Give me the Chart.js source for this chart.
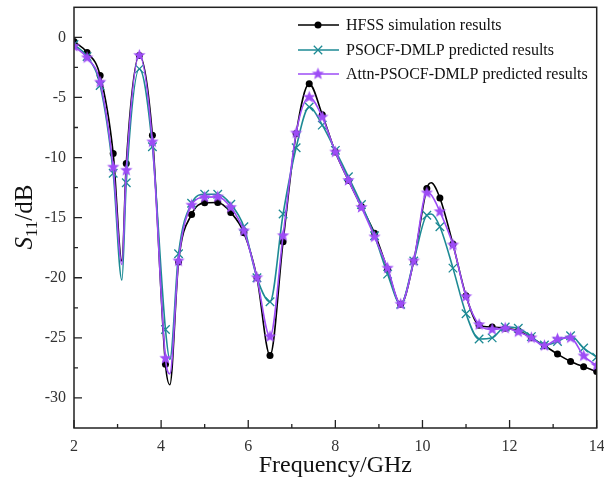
<!DOCTYPE html>
<html>
<head>
<meta charset="utf-8">
<script src="https://cdn.jsdelivr.net/npm/chart.js@4"></script>
<style>
  html, body { margin: 0; padding: 0; background: #fff; }
  #wrap { width: 604px; height: 479px; position: relative; }
</style>
</head>
<body>
<div id="wrap"><canvas id="c"></canvas></div>
<script>
// ---- data ----
const freq = [2.0,2.3,2.6,2.9,3.1,3.2,3.5,3.8,4.1,4.2,4.4,4.7,5.0,5.3,5.6,5.9,6.2,6.5,6.8,7.1,7.4,7.7,8.0,8.3,8.6,8.9,9.2,9.5,9.8,10.1,10.2,10.4,10.7,11.0,11.3,11.6,11.9,12.2,12.5,12.8,13.1,13.4,13.7,14.0];
const hfss = [-0.35,-1.25,-3.18,-9.67,-18.6,-10.5,-1.52,-8.15,-27.2,-28.9,-18.7,-14.73,-13.77,-13.74,-14.57,-16.26,-20.0,-26.46,-17.0,-8.0,-3.87,-6.44,-9.54,-11.9,-14.1,-16.3,-19.3,-22.2,-18.6,-12.58,-12.1,-13.36,-17.2,-21.5,-23.95,-24.1,-24.2,-24.4,-25.0,-25.65,-26.35,-26.96,-27.4,-27.8];
const psocf = [-0.6,-1.6,-4.0,-11.3,-20.2,-12.1,-2.62,-9.1,-24.3,-26.8,-18.0,-13.8,-13.05,-13.05,-13.88,-15.76,-20.0,-22.0,-14.7,-9.18,-5.8,-7.3,-9.4,-11.6,-13.9,-16.5,-19.7,-22.2,-18.6,-14.8,-14.7,-15.76,-19.2,-23.0,-25.1,-25.0,-24.1,-24.2,-24.9,-25.6,-25.3,-24.83,-25.85,-26.6];
const attn = [-0.75,-1.7,-3.73,-10.8,-18.9,-11.06,-1.5,-8.7,-26.7,-28.0,-18.6,-13.96,-13.3,-13.27,-14.15,-16.1,-20.0,-24.9,-16.5,-7.96,-4.98,-6.63,-9.54,-11.9,-14.15,-16.6,-19.2,-22.2,-18.6,-12.94,-13.1,-14.5,-17.28,-21.57,-23.9,-24.3,-24.2,-24.5,-25.0,-25.65,-25.1,-25.0,-26.5,-27.3];
const seriesNames = ['HFSS simulation results','PSOCF-DMLP predicted results','Attn-PSOCF-DMLP predicted results'];
const xTicks = [2,4,6,8,10,12,14];
const yTicks = [0,-5,-10,-15,-20,-25,-30];
const xTitle = 'Frequency/GHz';

// ---- styles ----
const FONT = '"Liberation Serif", "Times New Roman", serif';
const C_BLACK = '#000000';
const C_TEAL = '#1d8a94';
const C_PURPLE = '#9d4cf6';

function isMarker(f) { const k = (f - 2) / 0.3; return Math.abs(k - Math.round(k)) < 1e-6; }

function makeStar(color, R, r) {
  const s = Math.ceil(R * 2 + 2);
  const cv = document.createElement('canvas');
  cv.width = s; cv.height = s;
  const g = cv.getContext('2d');
  g.translate(s / 2, s / 2);
  g.beginPath();
  for (let i = 0; i < 10; i++) {
    const rad = (i % 2 === 0) ? R : r;
    const a = -Math.PI / 2 + i * Math.PI / 5;
    const px = rad * Math.cos(a), py = rad * Math.sin(a);
    if (i === 0) g.moveTo(px, py); else g.lineTo(px, py);
  }
  g.closePath();
  g.fillStyle = color; g.fill();
  return cv;
}
const starImg = makeStar(C_PURPLE, 6.5, 2.8);

function pts(arr) { return freq.map((f, i) => ({ x: f, y: arr[i] })); }

const frame = {
  id: 'frame',
  afterDraw(chart) {
    const { ctx, chartArea: { left, right, top, bottom }, scales: { x, y } } = chart;
    ctx.save();
    ctx.strokeStyle = '#222';
    ctx.lineWidth = 1.5;
    ctx.strokeRect(left, top, right - left, bottom - top);
    ctx.lineWidth = 1.3;
    ctx.beginPath();
    xTicks.forEach(v => { const p = x.getPixelForValue(v); ctx.moveTo(p, bottom); ctx.lineTo(p, bottom - 8); });
    for (let i = 0; i < xTicks.length - 1; i++) {
      const p = x.getPixelForValue((xTicks[i] + xTicks[i + 1]) / 2); ctx.moveTo(p, bottom); ctx.lineTo(p, bottom - 4);
    }
    yTicks.forEach(v => { const p = y.getPixelForValue(v); ctx.moveTo(left, p); ctx.lineTo(left + 8, p); });
    for (let i = 0; i < yTicks.length - 1; i++) {
      const p = y.getPixelForValue((yTicks[i] + yTicks[i + 1]) / 2); ctx.moveTo(left, p); ctx.lineTo(left + 4, p);
    }
    ctx.stroke();

    // x title
    ctx.fillStyle = '#111';
    ctx.font = '24px ' + FONT;
    ctx.textAlign = 'center';
    ctx.textBaseline = 'alphabetic';
    ctx.fillText(xTitle, (left + right) / 2, 472);

    // y title  S11/dB
    ctx.save();
    ctx.translate(32, 217);
    ctx.rotate(-Math.PI / 2);
    ctx.textAlign = 'left';
    const f1 = 'italic 25px ' + FONT, f2 = '17px ' + FONT, f3 = '25px ' + FONT;
    ctx.font = f1; const w1 = ctx.measureText('S').width;
    ctx.font = f2; const w2 = ctx.measureText('11').width;
    ctx.font = f3; const w3 = ctx.measureText('/dB').width;
    let sx = -(w1 + w2 + w3) / 2;
    ctx.font = f1; ctx.fillText('S', sx, 0); sx += w1;
    ctx.font = f2; ctx.fillText('11', sx, 5); sx += w2;
    ctx.font = f3; ctx.fillText('/dB', sx, 0);
    ctx.restore();

    // legend
    const rows = [25, 50, 74];
    const cols = [C_BLACK, C_TEAL, C_PURPLE];
    ctx.font = '16px ' + FONT;
    ctx.textAlign = 'left';
    ctx.textBaseline = 'middle';
    rows.forEach((ry, i) => {
      ctx.strokeStyle = cols[i];
      ctx.lineWidth = 1.6;
      ctx.beginPath(); ctx.moveTo(298, ry); ctx.lineTo(339, ry); ctx.stroke();
      const mx = 318;
      if (i === 0) {
        ctx.fillStyle = C_BLACK; ctx.beginPath(); ctx.arc(mx, ry, 3.5, 0, Math.PI * 2); ctx.fill();
      } else if (i === 1) {
        ctx.lineWidth = 1.3; ctx.beginPath();
        ctx.moveTo(mx - 4.2, ry - 4.2); ctx.lineTo(mx + 4.2, ry + 4.2);
        ctx.moveTo(mx - 4.2, ry + 4.2); ctx.lineTo(mx + 4.2, ry - 4.2); ctx.stroke();
      } else {
        ctx.drawImage(starImg, mx - starImg.width / 2, ry - starImg.height / 2);
      }
      ctx.fillStyle = '#111';
      ctx.fillText(seriesNames[i], 346, ry + 1);
    });
    ctx.restore();
  }
};

const common = { borderWidth: 1.6, cubicInterpolationMode: 'monotone', fill: false };

new Chart(document.getElementById('c'), {
  type: 'line',
  data: {
    datasets: [
      Object.assign({}, common, {
        label: seriesNames[0], data: pts(hfss), borderColor: C_BLACK, backgroundColor: C_BLACK,
        pointStyle: 'circle', pointRadius: c => isMarker(freq[c.dataIndex]) ? 3.5 : 0, pointBorderWidth: 0, order: 3
      }),
      Object.assign({}, common, {
        label: seriesNames[1], data: pts(psocf), borderColor: C_TEAL, backgroundColor: C_TEAL,
        pointStyle: 'crossRot', pointRadius: c => isMarker(freq[c.dataIndex]) ? 6 : 0, pointBorderWidth: 1.3, pointBorderColor: C_TEAL, order: 2
      }),
      Object.assign({}, common, {
        label: seriesNames[2], data: pts(attn), borderColor: C_PURPLE, backgroundColor: C_PURPLE,
        pointStyle: starImg, pointRadius: c => isMarker(freq[c.dataIndex]) ? 5 : 0, order: 1
      })
    ]
  },
  options: {
    responsive: true,
    maintainAspectRatio: false,
    animation: false,
    layout: { padding: { left: 0, right: 7, top: 7, bottom: 0 } },
    plugins: { legend: { display: false }, tooltip: { enabled: false } },
    scales: {
      x: {
        type: 'linear', min: 2, max: 14,
        grid: { display: false, drawTicks: false },
        border: { display: false },
        afterBuildTicks: s => { s.ticks = xTicks.map(v => ({ value: v })); },
        afterFit: s => { s.height = 51; s.paddingLeft = 0; s.paddingRight = 0; },
        ticks: { padding: 9, maxRotation: 0, autoSkip: false, color: '#333', font: { family: FONT, size: 16 } }
      },
      y: {
        type: 'linear', min: -32.5, max: 2.5,
        grid: { display: false, drawTicks: false },
        border: { display: false },
        afterBuildTicks: s => { s.ticks = yTicks.map(v => ({ value: v })); },
        afterFit: s => { s.width = 74; s.paddingTop = 0; s.paddingBottom = 0; },
        ticks: { padding: 8, autoSkip: false, color: '#333', font: { family: FONT, size: 16 } }
      }
    }
  },
  plugins: [frame]
});
</script>
</body>
</html>
